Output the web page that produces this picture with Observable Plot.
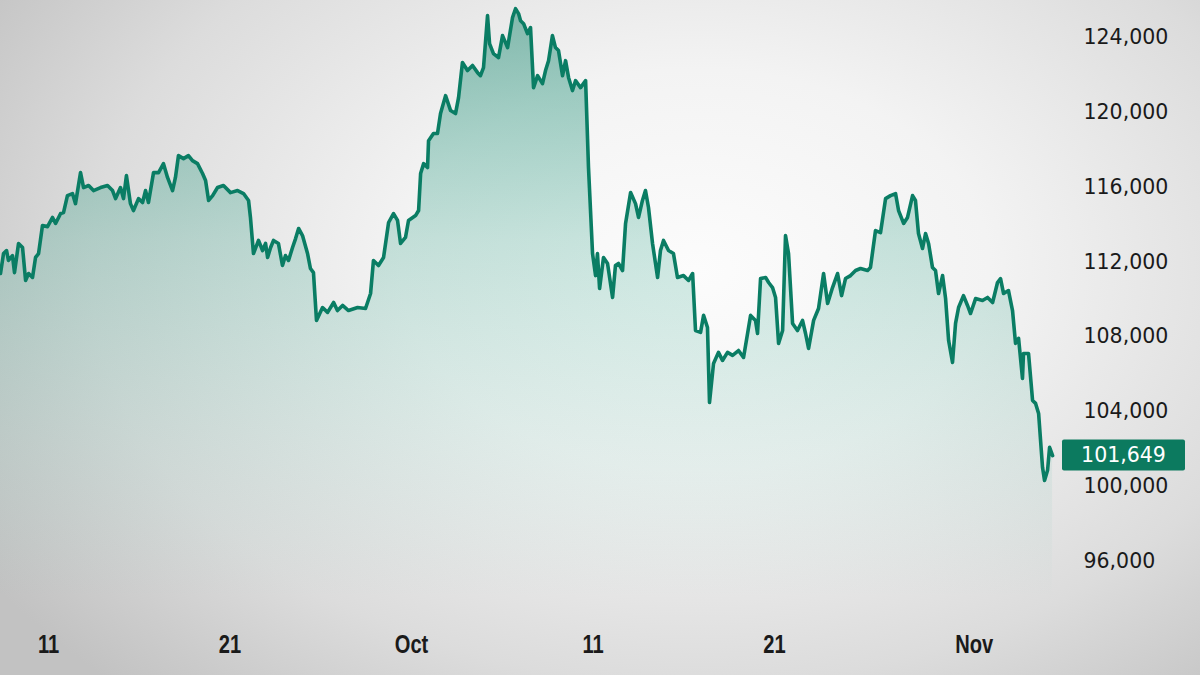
<!DOCTYPE html>
<html>
<head>
<meta charset="utf-8">
<script src="https://cdn.jsdelivr.net/npm/d3@7"></script>
<script src="https://cdn.jsdelivr.net/npm/@observablehq/plot@0.6"></script>
<style>
html, body { margin: 0; padding: 0; width: 1200px; height: 675px; overflow: hidden; background: #cfcfcf; }
#chart svg { display: block; }
</style>
</head>
<body>
<div id="chart"></div>
<script>
const year = "2025";
const times = [
"09-08 08:30","09-08 12:30","09-08 16:30","09-08 19:00","09-09 00:20","09-09 03:00","09-09 08:20","09-09 13:40","09-09 17:40","09-09 21:40",
"09-10 02:50","09-10 06:50","09-10 10:50","09-10 16:00","09-10 22:40","09-11 05:20","09-11 09:20","09-11 16:00","09-11 19:50","09-12 01:00",
"09-12 07:40","09-12 11:40","09-12 18:20","09-12 22:20","09-13 05:00","09-13 11:30","09-13 20:50","09-14 06:00","09-14 12:40","09-14 16:40",
"09-14 23:10","09-15 03:10","09-15 07:00","09-15 12:20","09-15 16:20","09-15 23:00","09-16 04:20","09-16 08:20","09-16 12:10","09-16 18:50",
"09-17 01:30","09-17 08:00","09-17 13:20","09-17 20:00","09-17 23:50","09-18 03:50","09-18 10:30","09-18 17:00","09-18 22:20","09-19 05:00",
"09-19 11:40","09-19 15:40","09-19 19:40","09-20 01:00","09-20 07:30","09-20 15:20","09-21 00:40","09-21 10:00","09-21 17:50","09-22 00:30",
"09-22 03:00","09-22 07:00","09-22 13:40","09-22 19:00","09-22 23:00","09-23 01:40","09-23 05:40","09-23 09:30","09-23 16:00","09-23 21:20",
"09-24 01:20","09-24 05:20","09-24 10:40","09-24 14:40","09-24 18:40","09-24 23:50","09-25 06:30","09-25 10:20","09-25 14:20","09-25 18:20",
"09-26 02:20","09-26 09:00","09-26 17:00","09-26 22:00","09-27 04:50","09-27 12:40","09-28 00:40","09-28 11:10","09-28 17:50","09-28 21:40",
"09-29 04:20","09-29 11:00","09-29 17:40","09-30 00:10","09-30 05:30","09-30 09:30","09-30 16:00","09-30 20:00","10-01 05:20","10-01 09:20",
"10-01 12:00","10-01 16:00","10-01 21:10","10-01 22:30","10-02 05:00","10-02 10:20","10-02 14:20","10-02 21:00","10-03 03:40","10-03 10:10",
"10-03 14:10","10-03 19:20","10-04 02:00","10-04 08:40","10-04 15:20","10-04 19:10","10-04 23:10","10-05 04:30","10-05 07:10","10-05 12:20",
"10-05 19:00","10-06 00:20","10-06 07:00","10-06 13:30","10-06 17:30","10-06 21:30","10-07 00:10","10-07 04:10","10-07 09:20","10-07 13:20",
"10-07 17:20","10-07 22:40","10-08 05:10","10-08 09:10","10-08 13:10","10-08 18:20","10-08 22:20","10-09 02:20","10-09 07:40","10-09 11:40",
"10-09 15:40","10-09 20:50","10-10 00:50","10-10 07:30","10-10 14:10","10-10 18:00","10-10 23:20","10-11 03:20","10-11 05:50","10-11 08:40",
"10-11 13:50","10-11 19:10","10-12 01:50","10-12 05:40","10-12 09:40","10-12 15:00","10-12 19:00","10-13 01:40","10-13 08:10","10-13 12:10",
"10-13 17:20","10-13 21:20","10-14 01:20","10-14 06:40","10-14 13:20","10-14 17:10","10-14 21:10","10-15 03:50","10-15 10:20","10-15 15:40",
"10-15 23:40","10-16 06:20","10-16 11:40","10-16 15:30","10-16 22:10","10-17 02:10","10-17 07:20","10-17 10:00","10-17 15:20","10-17 21:50",
"10-18 03:10","10-18 09:50","10-18 16:30","10-19 00:20","10-19 07:00","10-19 12:20","10-19 16:20","10-19 22:50","10-20 01:30","10-20 05:30",
"10-20 12:10","10-20 16:10","10-20 21:20","10-21 01:20","10-21 05:20","10-21 10:40","10-21 14:30","10-21 18:30","10-21 23:50","10-22 06:20",
"10-22 13:00","10-22 17:00","10-22 21:00","10-23 03:40","10-23 10:10","10-23 16:50","10-23 22:10","10-24 04:40","10-24 11:20","10-24 16:40",
"10-24 21:50","10-25 04:30","10-25 11:10","10-25 17:40","10-26 03:00","10-26 06:50","10-26 13:30","10-26 20:10","10-27 02:50","10-27 09:20",
"10-27 16:00","10-27 20:00","10-28 02:40","10-28 07:50","10-28 14:30","10-28 18:20","10-28 22:20","10-29 03:40","10-29 07:40","10-29 11:40",
"10-29 16:50","10-29 20:50","10-30 00:50","10-30 06:10","10-30 10:10","10-30 14:10","10-30 19:20","10-30 23:20","10-31 03:20","10-31 09:50",
"10-31 15:10","10-31 19:10","11-01 01:50","11-01 11:00","11-01 17:40","11-02 00:20","11-02 06:50","11-02 10:50","11-02 14:50","11-02 21:20",
"11-03 02:40","11-03 06:40","11-03 10:40","11-03 15:50","11-03 17:10","11-03 23:50","11-04 05:10","11-04 09:10","11-04 13:10","11-04 18:20",
"11-04 21:00","11-05 01:00","11-05 03:40","11-05 07:40"
];
const prices = [
111390,112460,112620,112090,112350,111440,113000,112780,111020,111390,
111180,112250,112460,113960,113900,114390,114070,114600,114650,115560,
115670,115130,116790,115990,116100,115830,115990,116100,115830,115400,
115990,115400,116630,115130,114760,115400,115190,115830,115190,116790,
116790,117270,116530,115830,116530,117700,117540,117700,117430,117270,
116740,116370,115300,115560,115990,116100,115720,115830,115670,115300,
114390,112460,113160,112620,113000,112250,112780,113160,113000,111820,
112350,112090,112780,113260,113800,113420,112460,111660,111440,108880,
109570,109310,109840,109410,109680,109410,109570,109520,110320,112090,
111820,112250,114120,114600,114230,113000,113320,114230,114490,114760,
116740,117270,117060,118500,118880,118880,119950,120910,120110,119950,
120800,122680,122250,122520,122140,121980,122410,125190,123690,123160,
122940,124120,123480,125080,125560,125300,124920,124760,124230,124550,
121340,121980,121550,122250,122780,124120,123480,123320,121980,122780,
121870,121180,121710,121340,121710,117060,112460,111280,112460,110590,
112250,111930,110110,111820,111930,111550,114070,115720,115130,114390,
115300,115830,114920,113000,111180,112620,113160,112620,112460,111180,
111280,111020,111390,108340,108240,109150,108500,104490,106580,107170,
106740,107170,107010,107270,106900,108180,109150,108880,108180,111120,
111180,110910,110640,110110,107650,108340,113420,112460,108720,108340,
108880,108180,107380,108880,109520,111390,109790,110640,111390,110210,
111120,111280,111550,111660,111550,111710,113690,113580,115400,115560,
115670,114760,114070,114390,115560,115300,113530,112730,113530,113000,
111710,111550,110320,111280,110050,107810,106630,108720,109570,110210,
109680,109250,110050,109950,110110,109840,110910,111120,110320,110480,
109410,107650,107920,105780,107110,107110,104600,104440,103900,101020,
100320,100860,102090,101649
];
const xTickDates = ["2025-09-11 00:00","2025-09-21 00:00","2025-10-01 00:00","2025-10-11 00:00","2025-10-21 00:00","2025-11-01 00:00"];
const yTicks = [96000, 100000, 104000, 108000, 112000, 116000, 120000, 124000];
const xDomain = ["2025-09-08 08:30", "2025-11-05 11:30"];
const yDomain = [94000, 126000];
const lastPrice = 101649;

const parse = d3.utcParse("%Y-%m-%d %H:%M");
const data = times.map((t, i) => ({date: parse(year + "-" + t), price: prices[i]}));
const fmtMonth = d3.utcFormat("%b");
const fmtDay = d3.utcFormat("%-d");
const fmtPrice = d3.format(",");

const gradientDefs = () => {
  const defs = d3.create("svg:defs");
  const g = defs.append("linearGradient").attr("id", "areaGrad")
    .attr("gradientUnits", "userSpaceOnUse").attr("x1", 0).attr("y1", 0).attr("x2", 0).attr("y2", 598);
  g.append("stop").attr("offset", "0").attr("stop-color", "#0b7f66").attr("stop-opacity", 0.48);
  g.append("stop").attr("offset", "0.4").attr("stop-color", "#169678").attr("stop-opacity", 0.22);
  g.append("stop").attr("offset", "0.75").attr("stop-color", "#2aa88a").attr("stop-opacity", 0.09);
  g.append("stop").attr("offset", "1").attr("stop-color", "#2aa88a").attr("stop-opacity", 0.0);
  return defs.node();
};

const priceTag = (index, scales, values, dims) => {
  const y = scales.y(lastPrice);
  const x0 = dims.width - dims.marginRight + 7;
  const g = d3.create("svg:g");
  g.append("rect").attr("x", x0).attr("y", y - 15.5).attr("width", 123).attr("height", 31)
    .attr("rx", 2).attr("fill", "#0c7a5f");
  g.append("text").attr("x", x0 + 61.5).attr("y", y).attr("dy", "0.36em")
    .attr("text-anchor", "middle").attr("fill", "#ffffff")
    .attr("font-family", "DejaVu Sans").attr("font-size", 20.5)
    .text(fmtPrice(lastPrice));
  return g.node();
};

const chart = Plot.plot({
  width: 1200,
  height: 675,
  marginLeft: 0,
  marginRight: 145,
  marginTop: 0,
  marginBottom: 77,
  style: {
    background: "radial-gradient(ellipse 70% 85% at 58% 40%, #fcfcfc 0%, #f3f3f3 35%, #dcdcdc 72%, #c2c2c2 100%)",
    fontFamily: "DejaVu Sans",
    overflow: "visible"
  },
  x: {type: "utc", domain: xDomain.map(parse), label: null},
  y: {domain: yDomain, label: null},
  marks: [
    gradientDefs,
    Plot.areaY(data, {x: "date", y1: yDomain[0], y2: "price", fill: "url(#areaGrad)"}),
    Plot.lineY(data, {x: "date", y: "price", stroke: "#0a7d64", strokeWidth: 3.6, strokeLinejoin: "round"}),
    Plot.axisX({
      ticks: xTickDates.map(parse),
      tickFormat: d => d.getUTCDate() === 1 ? fmtMonth(d) : fmtDay(d),
      tickSize: 0, tickPadding: 36, label: null,
      fontSize: 26.5, fontWeight: "bold",
      fontFamily: "'Liberation Sans','DejaVu Sans',sans-serif",
      fill: "#1a1a1a"
    }),
    Plot.axisY({
      anchor: "right",
      ticks: yTicks,
      tickFormat: fmtPrice,
      tickSize: 0, tickPadding: 28, label: null,
      fontSize: 20.5, fill: "#1a1a1a"
    }),
    priceTag
  ]
});
document.getElementById("chart").append(chart);

// Narrow the x-axis tick labels (condensed look): append a horizontal scale to each label
const sx = 0.76;
d3.select(chart).selectAll('g[aria-label="x-axis tick label"] text').each(function () {
  const t = this.getAttribute("transform") || "";
  const x = this.getAttribute("x");
  if (x !== null && x !== "") this.setAttribute("x", (+x) / sx);
  this.setAttribute("transform", (t + ` scale(${sx},1)`).trim());
});
</script>
</body>
</html>
